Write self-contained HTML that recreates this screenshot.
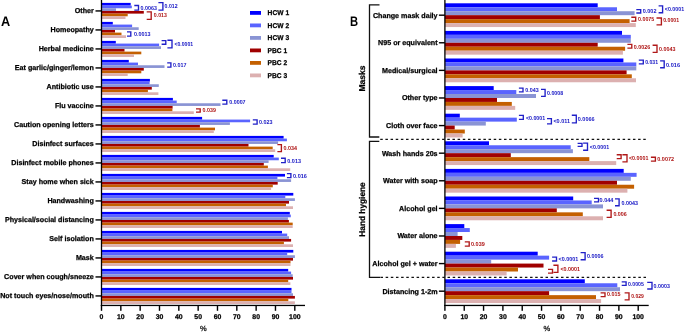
<!DOCTYPE html>
<html><head><meta charset="utf-8"><style>
html,body{margin:0;padding:0;background:#fff;width:685px;height:332px;overflow:hidden}
svg{display:block}
#w{width:685px;height:332px;will-change:transform}
text{font-family:"Liberation Sans", sans-serif;paint-order:stroke;text-rendering:geometricPrecision}
.bk{stroke:#000;stroke-width:0.25px}
</style></head><body>
<div id="w"><svg width="685" height="332" viewBox="0 0 685 332">
<rect x="101.5" y="2.90" width="29.20" height="2.68" fill="#0000ff"/>
<rect x="101.5" y="5.58" width="30.30" height="2.68" fill="#5a64ff"/>
<rect x="101.5" y="8.26" width="14.50" height="2.68" fill="#8a94d4"/>
<rect x="101.5" y="10.94" width="42.30" height="2.68" fill="#a00000"/>
<rect x="101.5" y="13.62" width="26.20" height="2.68" fill="#c46000"/>
<rect x="101.5" y="16.30" width="24.00" height="2.68" fill="#dcb0b0"/>
<rect x="101.5" y="21.90" width="11.30" height="2.68" fill="#0000ff"/>
<rect x="101.5" y="24.58" width="30.60" height="2.68" fill="#5a64ff"/>
<rect x="101.5" y="27.26" width="37.20" height="2.68" fill="#8a94d4"/>
<rect x="101.5" y="29.94" width="13.50" height="2.68" fill="#a00000"/>
<rect x="101.5" y="32.62" width="20.00" height="2.68" fill="#c46000"/>
<rect x="101.5" y="35.30" width="24.50" height="2.68" fill="#dcb0b0"/>
<rect x="101.5" y="40.90" width="14.30" height="2.68" fill="#0000ff"/>
<rect x="101.5" y="43.58" width="57.60" height="2.68" fill="#5a64ff"/>
<rect x="101.5" y="46.26" width="59.50" height="2.68" fill="#8a94d4"/>
<rect x="101.5" y="48.94" width="23.00" height="2.68" fill="#a00000"/>
<rect x="101.5" y="51.62" width="39.80" height="2.68" fill="#c46000"/>
<rect x="101.5" y="54.30" width="32.50" height="2.68" fill="#dcb0b0"/>
<rect x="101.5" y="59.90" width="27.30" height="2.68" fill="#0000ff"/>
<rect x="101.5" y="62.58" width="36.50" height="2.68" fill="#5a64ff"/>
<rect x="101.5" y="65.26" width="63.00" height="2.68" fill="#8a94d4"/>
<rect x="101.5" y="67.94" width="42.30" height="2.68" fill="#a00000"/>
<rect x="101.5" y="70.62" width="39.80" height="2.68" fill="#c46000"/>
<rect x="101.5" y="73.30" width="26.20" height="2.68" fill="#dcb0b0"/>
<rect x="101.5" y="78.90" width="48.40" height="2.68" fill="#0000ff"/>
<rect x="101.5" y="81.58" width="48.10" height="2.68" fill="#5a64ff"/>
<rect x="101.5" y="84.26" width="57.30" height="2.68" fill="#8a94d4"/>
<rect x="101.5" y="86.94" width="50.30" height="2.68" fill="#a00000"/>
<rect x="101.5" y="89.62" width="46.40" height="2.68" fill="#c46000"/>
<rect x="101.5" y="92.30" width="56.90" height="2.68" fill="#dcb0b0"/>
<rect x="101.5" y="97.90" width="71.40" height="2.68" fill="#0000ff"/>
<rect x="101.5" y="100.58" width="75.20" height="2.68" fill="#5a64ff"/>
<rect x="101.5" y="103.26" width="119.00" height="2.68" fill="#8a94d4"/>
<rect x="101.5" y="105.94" width="71.10" height="2.68" fill="#a00000"/>
<rect x="101.5" y="108.62" width="70.90" height="2.68" fill="#c46000"/>
<rect x="101.5" y="111.30" width="92.30" height="2.68" fill="#dcb0b0"/>
<rect x="101.5" y="116.90" width="100.60" height="2.68" fill="#0000ff"/>
<rect x="101.5" y="119.58" width="148.60" height="2.68" fill="#5a64ff"/>
<rect x="101.5" y="122.26" width="128.40" height="2.68" fill="#8a94d4"/>
<rect x="101.5" y="124.94" width="98.40" height="2.68" fill="#a00000"/>
<rect x="101.5" y="127.62" width="113.50" height="2.68" fill="#c46000"/>
<rect x="101.5" y="130.30" width="112.30" height="2.68" fill="#dcb0b0"/>
<rect x="101.5" y="135.90" width="182.10" height="2.68" fill="#0000ff"/>
<rect x="101.5" y="138.58" width="185.40" height="2.68" fill="#5a64ff"/>
<rect x="101.5" y="141.26" width="176.60" height="2.68" fill="#8a94d4"/>
<rect x="101.5" y="143.94" width="147.00" height="2.68" fill="#a00000"/>
<rect x="101.5" y="146.62" width="171.20" height="2.68" fill="#c46000"/>
<rect x="101.5" y="149.30" width="173.70" height="2.68" fill="#dcb0b0"/>
<rect x="101.5" y="154.90" width="172.20" height="2.68" fill="#0000ff"/>
<rect x="101.5" y="157.58" width="177.30" height="2.68" fill="#5a64ff"/>
<rect x="101.5" y="160.26" width="167.10" height="2.68" fill="#8a94d4"/>
<rect x="101.5" y="162.94" width="162.30" height="2.68" fill="#a00000"/>
<rect x="101.5" y="165.62" width="166.40" height="2.68" fill="#c46000"/>
<rect x="101.5" y="168.30" width="188.70" height="2.68" fill="#dcb0b0"/>
<rect x="101.5" y="173.90" width="183.50" height="2.68" fill="#0000ff"/>
<rect x="101.5" y="176.58" width="175.90" height="2.68" fill="#5a64ff"/>
<rect x="101.5" y="179.26" width="189.60" height="2.68" fill="#8a94d4"/>
<rect x="101.5" y="181.94" width="176.20" height="2.68" fill="#a00000"/>
<rect x="101.5" y="184.62" width="171.30" height="2.68" fill="#c46000"/>
<rect x="101.5" y="187.30" width="169.60" height="2.68" fill="#dcb0b0"/>
<rect x="101.5" y="192.90" width="191.80" height="2.68" fill="#0000ff"/>
<rect x="101.5" y="195.58" width="183.80" height="2.68" fill="#5a64ff"/>
<rect x="101.5" y="198.26" width="193.40" height="2.68" fill="#8a94d4"/>
<rect x="101.5" y="200.94" width="187.50" height="2.68" fill="#a00000"/>
<rect x="101.5" y="203.62" width="184.50" height="2.68" fill="#c46000"/>
<rect x="101.5" y="206.30" width="191.50" height="2.68" fill="#dcb0b0"/>
<rect x="101.5" y="211.90" width="188.30" height="2.68" fill="#0000ff"/>
<rect x="101.5" y="214.58" width="189.30" height="2.68" fill="#5a64ff"/>
<rect x="101.5" y="217.26" width="186.40" height="2.68" fill="#8a94d4"/>
<rect x="101.5" y="219.94" width="187.40" height="2.68" fill="#a00000"/>
<rect x="101.5" y="222.62" width="191.20" height="2.68" fill="#c46000"/>
<rect x="101.5" y="225.30" width="191.20" height="2.68" fill="#dcb0b0"/>
<rect x="101.5" y="230.90" width="180.50" height="2.68" fill="#0000ff"/>
<rect x="101.5" y="233.58" width="185.70" height="2.68" fill="#5a64ff"/>
<rect x="101.5" y="236.26" width="187.50" height="2.68" fill="#8a94d4"/>
<rect x="101.5" y="238.94" width="189.60" height="2.68" fill="#a00000"/>
<rect x="101.5" y="241.62" width="182.40" height="2.68" fill="#c46000"/>
<rect x="101.5" y="244.30" width="191.50" height="2.68" fill="#dcb0b0"/>
<rect x="101.5" y="249.90" width="191.80" height="2.68" fill="#0000ff"/>
<rect x="101.5" y="252.58" width="185.70" height="2.68" fill="#5a64ff"/>
<rect x="101.5" y="255.26" width="193.40" height="2.68" fill="#8a94d4"/>
<rect x="101.5" y="257.94" width="191.50" height="2.68" fill="#a00000"/>
<rect x="101.5" y="260.62" width="189.00" height="2.68" fill="#c46000"/>
<rect x="101.5" y="263.30" width="189.00" height="2.68" fill="#dcb0b0"/>
<rect x="101.5" y="268.90" width="186.70" height="2.68" fill="#0000ff"/>
<rect x="101.5" y="271.58" width="189.60" height="2.68" fill="#5a64ff"/>
<rect x="101.5" y="274.26" width="191.20" height="2.68" fill="#8a94d4"/>
<rect x="101.5" y="276.94" width="191.50" height="2.68" fill="#a00000"/>
<rect x="101.5" y="279.62" width="186.70" height="2.68" fill="#c46000"/>
<rect x="101.5" y="282.30" width="188.90" height="2.68" fill="#dcb0b0"/>
<rect x="101.5" y="287.90" width="190.00" height="2.68" fill="#0000ff"/>
<rect x="101.5" y="290.58" width="190.00" height="2.68" fill="#5a64ff"/>
<rect x="101.5" y="293.26" width="191.50" height="2.68" fill="#8a94d4"/>
<rect x="101.5" y="295.94" width="193.40" height="2.68" fill="#a00000"/>
<rect x="101.5" y="298.62" width="186.80" height="2.68" fill="#c46000"/>
<rect x="101.5" y="301.30" width="193.40" height="2.68" fill="#dcb0b0"/>
<rect x="444.9" y="3.30" width="152.80" height="3.96" fill="#0000ff"/>
<rect x="444.9" y="7.26" width="172.10" height="3.96" fill="#5a64ff"/>
<rect x="444.9" y="11.22" width="189.70" height="3.96" fill="#8a94d4"/>
<rect x="444.9" y="15.18" width="155.00" height="3.96" fill="#a00000"/>
<rect x="444.9" y="19.14" width="184.70" height="3.96" fill="#c46000"/>
<rect x="444.9" y="23.10" width="190.90" height="3.96" fill="#dcb0b0"/>
<rect x="444.9" y="30.90" width="177.10" height="3.96" fill="#0000ff"/>
<rect x="444.9" y="34.86" width="185.90" height="3.96" fill="#5a64ff"/>
<rect x="444.9" y="38.82" width="185.90" height="3.96" fill="#8a94d4"/>
<rect x="444.9" y="42.78" width="152.80" height="3.96" fill="#a00000"/>
<rect x="444.9" y="46.74" width="180.20" height="3.96" fill="#c46000"/>
<rect x="444.9" y="50.70" width="178.00" height="3.96" fill="#dcb0b0"/>
<rect x="444.9" y="58.50" width="178.50" height="3.96" fill="#0000ff"/>
<rect x="444.9" y="62.46" width="191.40" height="3.96" fill="#5a64ff"/>
<rect x="444.9" y="66.42" width="191.40" height="3.96" fill="#8a94d4"/>
<rect x="444.9" y="70.38" width="181.70" height="3.96" fill="#a00000"/>
<rect x="444.9" y="74.34" width="186.90" height="3.96" fill="#c46000"/>
<rect x="444.9" y="78.30" width="191.10" height="3.96" fill="#dcb0b0"/>
<rect x="444.9" y="86.10" width="48.80" height="3.96" fill="#0000ff"/>
<rect x="444.9" y="90.06" width="71.40" height="3.96" fill="#5a64ff"/>
<rect x="444.9" y="94.02" width="91.10" height="3.96" fill="#8a94d4"/>
<rect x="444.9" y="97.98" width="52.10" height="3.96" fill="#a00000"/>
<rect x="444.9" y="101.94" width="66.90" height="3.96" fill="#c46000"/>
<rect x="444.9" y="105.90" width="70.30" height="3.96" fill="#dcb0b0"/>
<rect x="444.9" y="113.70" width="14.90" height="3.96" fill="#0000ff"/>
<rect x="444.9" y="117.66" width="71.90" height="3.96" fill="#5a64ff"/>
<rect x="444.9" y="121.62" width="40.90" height="3.96" fill="#8a94d4"/>
<rect x="444.9" y="125.58" width="9.80" height="3.96" fill="#a00000"/>
<rect x="444.9" y="129.54" width="19.90" height="3.96" fill="#c46000"/>
<rect x="444.9" y="133.50" width="17.70" height="3.96" fill="#dcb0b0"/>
<rect x="444.9" y="141.30" width="44.10" height="3.96" fill="#0000ff"/>
<rect x="444.9" y="145.26" width="125.80" height="3.96" fill="#5a64ff"/>
<rect x="444.9" y="149.22" width="128.00" height="3.96" fill="#8a94d4"/>
<rect x="444.9" y="153.18" width="65.90" height="3.96" fill="#a00000"/>
<rect x="444.9" y="157.14" width="144.40" height="3.96" fill="#c46000"/>
<rect x="444.9" y="161.10" width="171.30" height="3.96" fill="#dcb0b0"/>
<rect x="444.9" y="168.90" width="178.80" height="3.96" fill="#0000ff"/>
<rect x="444.9" y="172.86" width="191.70" height="3.96" fill="#5a64ff"/>
<rect x="444.9" y="176.82" width="185.90" height="3.96" fill="#8a94d4"/>
<rect x="444.9" y="180.78" width="172.10" height="3.96" fill="#a00000"/>
<rect x="444.9" y="184.74" width="189.20" height="3.96" fill="#c46000"/>
<rect x="444.9" y="188.70" width="182.50" height="3.96" fill="#dcb0b0"/>
<rect x="444.9" y="196.50" width="128.30" height="3.96" fill="#0000ff"/>
<rect x="444.9" y="200.46" width="146.80" height="3.96" fill="#5a64ff"/>
<rect x="444.9" y="204.42" width="158.10" height="3.96" fill="#8a94d4"/>
<rect x="444.9" y="208.38" width="111.90" height="3.96" fill="#a00000"/>
<rect x="444.9" y="212.34" width="137.90" height="3.96" fill="#c46000"/>
<rect x="444.9" y="216.30" width="158.10" height="3.96" fill="#dcb0b0"/>
<rect x="444.9" y="224.10" width="19.40" height="3.96" fill="#0000ff"/>
<rect x="444.9" y="228.06" width="24.90" height="3.96" fill="#5a64ff"/>
<rect x="444.9" y="232.02" width="12.70" height="3.96" fill="#8a94d4"/>
<rect x="444.9" y="235.98" width="17.40" height="3.96" fill="#a00000"/>
<rect x="444.9" y="239.94" width="15.20" height="3.96" fill="#c46000"/>
<rect x="444.9" y="243.90" width="11.00" height="3.96" fill="#dcb0b0"/>
<rect x="444.9" y="251.70" width="92.80" height="3.96" fill="#0000ff"/>
<rect x="444.9" y="255.66" width="104.20" height="3.96" fill="#5a64ff"/>
<rect x="444.9" y="259.62" width="46.30" height="3.96" fill="#8a94d4"/>
<rect x="444.9" y="263.58" width="98.60" height="3.96" fill="#a00000"/>
<rect x="444.9" y="267.54" width="73.10" height="3.96" fill="#c46000"/>
<rect x="444.9" y="271.50" width="61.70" height="3.96" fill="#dcb0b0"/>
<rect x="444.9" y="279.30" width="139.90" height="3.96" fill="#0000ff"/>
<rect x="444.9" y="283.26" width="172.40" height="3.96" fill="#5a64ff"/>
<rect x="444.9" y="287.22" width="175.10" height="3.96" fill="#8a94d4"/>
<rect x="444.9" y="291.18" width="104.20" height="3.96" fill="#a00000"/>
<rect x="444.9" y="295.14" width="151.10" height="3.96" fill="#c46000"/>
<rect x="444.9" y="299.10" width="156.20" height="3.96" fill="#dcb0b0"/>
<rect x="100.85" y="0" width="1.3" height="305.90" fill="#000"/>
<rect x="100.85" y="304.8" width="204.15" height="1.3" fill="#000"/>
<rect x="100.80" y="305.0" width="1.4" height="5.8" fill="#000"/>
<text x="101.50" y="319" font-size="6.9" font-weight="bold" text-anchor="middle" fill="#000" class="bk">0</text>
<rect x="120.13" y="305.0" width="1.4" height="5.8" fill="#000"/>
<text x="120.83" y="319" font-size="6.9" font-weight="bold" text-anchor="middle" fill="#000" class="bk">10</text>
<rect x="139.46" y="305.0" width="1.4" height="5.8" fill="#000"/>
<text x="140.16" y="319" font-size="6.9" font-weight="bold" text-anchor="middle" fill="#000" class="bk">20</text>
<rect x="158.79" y="305.0" width="1.4" height="5.8" fill="#000"/>
<text x="159.49" y="319" font-size="6.9" font-weight="bold" text-anchor="middle" fill="#000" class="bk">30</text>
<rect x="178.12" y="305.0" width="1.4" height="5.8" fill="#000"/>
<text x="178.82" y="319" font-size="6.9" font-weight="bold" text-anchor="middle" fill="#000" class="bk">40</text>
<rect x="197.45" y="305.0" width="1.4" height="5.8" fill="#000"/>
<text x="198.15" y="319" font-size="6.9" font-weight="bold" text-anchor="middle" fill="#000" class="bk">50</text>
<rect x="216.78" y="305.0" width="1.4" height="5.8" fill="#000"/>
<text x="217.48" y="319" font-size="6.9" font-weight="bold" text-anchor="middle" fill="#000" class="bk">60</text>
<rect x="236.11" y="305.0" width="1.4" height="5.8" fill="#000"/>
<text x="236.81" y="319" font-size="6.9" font-weight="bold" text-anchor="middle" fill="#000" class="bk">70</text>
<rect x="255.44" y="305.0" width="1.4" height="5.8" fill="#000"/>
<text x="256.14" y="319" font-size="6.9" font-weight="bold" text-anchor="middle" fill="#000" class="bk">80</text>
<rect x="274.77" y="305.0" width="1.4" height="5.8" fill="#000"/>
<text x="275.47" y="319" font-size="6.9" font-weight="bold" text-anchor="middle" fill="#000" class="bk">90</text>
<rect x="294.10" y="305.0" width="1.4" height="5.8" fill="#000"/>
<text x="294.80" y="319" font-size="6.9" font-weight="bold" text-anchor="middle" fill="#000" class="bk">100</text>
<text x="203.25" y="330.6" font-size="7.5" text-anchor="middle" fill="#111" stroke="#111" stroke-width="0.25">%</text>
<rect x="444.25" y="0" width="1.3" height="305.90" fill="#000"/>
<rect x="444.25" y="304.8" width="204.45" height="1.3" fill="#000"/>
<rect x="444.20" y="305.0" width="1.4" height="5.8" fill="#000"/>
<text x="444.90" y="319" font-size="6.9" font-weight="bold" text-anchor="middle" fill="#000" class="bk">0</text>
<rect x="463.53" y="305.0" width="1.4" height="5.8" fill="#000"/>
<text x="464.23" y="319" font-size="6.9" font-weight="bold" text-anchor="middle" fill="#000" class="bk">10</text>
<rect x="482.86" y="305.0" width="1.4" height="5.8" fill="#000"/>
<text x="483.56" y="319" font-size="6.9" font-weight="bold" text-anchor="middle" fill="#000" class="bk">20</text>
<rect x="502.19" y="305.0" width="1.4" height="5.8" fill="#000"/>
<text x="502.89" y="319" font-size="6.9" font-weight="bold" text-anchor="middle" fill="#000" class="bk">30</text>
<rect x="521.52" y="305.0" width="1.4" height="5.8" fill="#000"/>
<text x="522.22" y="319" font-size="6.9" font-weight="bold" text-anchor="middle" fill="#000" class="bk">40</text>
<rect x="540.85" y="305.0" width="1.4" height="5.8" fill="#000"/>
<text x="541.55" y="319" font-size="6.9" font-weight="bold" text-anchor="middle" fill="#000" class="bk">50</text>
<rect x="560.18" y="305.0" width="1.4" height="5.8" fill="#000"/>
<text x="560.88" y="319" font-size="6.9" font-weight="bold" text-anchor="middle" fill="#000" class="bk">60</text>
<rect x="579.51" y="305.0" width="1.4" height="5.8" fill="#000"/>
<text x="580.21" y="319" font-size="6.9" font-weight="bold" text-anchor="middle" fill="#000" class="bk">70</text>
<rect x="598.84" y="305.0" width="1.4" height="5.8" fill="#000"/>
<text x="599.54" y="319" font-size="6.9" font-weight="bold" text-anchor="middle" fill="#000" class="bk">80</text>
<rect x="618.17" y="305.0" width="1.4" height="5.8" fill="#000"/>
<text x="618.87" y="319" font-size="6.9" font-weight="bold" text-anchor="middle" fill="#000" class="bk">90</text>
<rect x="637.50" y="305.0" width="1.4" height="5.8" fill="#000"/>
<text x="638.20" y="319" font-size="6.9" font-weight="bold" text-anchor="middle" fill="#000" class="bk">100</text>
<text x="546.80" y="330.6" font-size="7.5" text-anchor="middle" fill="#111" stroke="#111" stroke-width="0.25">%</text>
<rect x="95.50" y="10.24" width="6" height="1.4" fill="#000"/>
<text x="93.8" y="13.44" font-size="7.15" font-weight="bold" text-anchor="end" fill="#000" class="bk">Other</text>
<rect x="95.50" y="29.24" width="6" height="1.4" fill="#000"/>
<text x="93.8" y="32.44" font-size="7.15" font-weight="bold" text-anchor="end" fill="#000" class="bk">Homeopathy</text>
<rect x="95.50" y="48.24" width="6" height="1.4" fill="#000"/>
<text x="93.8" y="51.44" font-size="7.15" font-weight="bold" text-anchor="end" fill="#000" class="bk">Herbal medicine</text>
<rect x="95.50" y="67.24" width="6" height="1.4" fill="#000"/>
<text x="93.8" y="70.44" font-size="7.15" font-weight="bold" text-anchor="end" fill="#000" class="bk">Eat garlic/ginger/lemon</text>
<rect x="95.50" y="86.24" width="6" height="1.4" fill="#000"/>
<text x="93.8" y="89.44" font-size="7.15" font-weight="bold" text-anchor="end" fill="#000" class="bk">Antibiotic use</text>
<rect x="95.50" y="105.24" width="6" height="1.4" fill="#000"/>
<text x="93.8" y="108.44" font-size="7.15" font-weight="bold" text-anchor="end" fill="#000" class="bk">Flu vaccine</text>
<rect x="95.50" y="124.24" width="6" height="1.4" fill="#000"/>
<text x="93.8" y="127.44" font-size="7.15" font-weight="bold" text-anchor="end" fill="#000" class="bk">Caution opening letters</text>
<rect x="95.50" y="143.24" width="6" height="1.4" fill="#000"/>
<text x="93.8" y="146.44" font-size="7.15" font-weight="bold" text-anchor="end" fill="#000" class="bk">Disinfect surfaces</text>
<rect x="95.50" y="162.24" width="6" height="1.4" fill="#000"/>
<text x="93.8" y="165.44" font-size="7.15" font-weight="bold" text-anchor="end" fill="#000" class="bk">Disinfect mobile phones</text>
<rect x="95.50" y="181.24" width="6" height="1.4" fill="#000"/>
<text x="93.8" y="184.44" font-size="7.15" font-weight="bold" text-anchor="end" fill="#000" class="bk">Stay home when sick</text>
<rect x="95.50" y="200.24" width="6" height="1.4" fill="#000"/>
<text x="93.8" y="203.44" font-size="7.15" font-weight="bold" text-anchor="end" fill="#000" class="bk">Handwashing</text>
<rect x="95.50" y="219.24" width="6" height="1.4" fill="#000"/>
<text x="93.8" y="222.44" font-size="7.15" font-weight="bold" text-anchor="end" fill="#000" class="bk">Physical/social distancing</text>
<rect x="95.50" y="238.24" width="6" height="1.4" fill="#000"/>
<text x="93.8" y="241.44" font-size="7.15" font-weight="bold" text-anchor="end" fill="#000" class="bk">Self isolation</text>
<rect x="95.50" y="257.24" width="6" height="1.4" fill="#000"/>
<text x="93.8" y="260.44" font-size="7.15" font-weight="bold" text-anchor="end" fill="#000" class="bk">Mask</text>
<rect x="95.50" y="276.24" width="6" height="1.4" fill="#000"/>
<text x="93.8" y="279.44" font-size="7.15" font-weight="bold" text-anchor="end" fill="#000" class="bk">Cover when cough/sneeze</text>
<rect x="95.50" y="295.24" width="6" height="1.4" fill="#000"/>
<text x="93.8" y="298.44" font-size="7.15" font-weight="bold" text-anchor="end" fill="#000" class="bk">Not touch eyes/nose/mouth</text>
<rect x="438.90" y="14.48" width="6" height="1.4" fill="#000"/>
<text x="437.6" y="17.68" font-size="7.15" font-weight="bold" text-anchor="end" fill="#000" class="bk">Change mask daily</text>
<rect x="438.90" y="42.08" width="6" height="1.4" fill="#000"/>
<text x="437.6" y="45.28" font-size="7.15" font-weight="bold" text-anchor="end" fill="#000" class="bk">N95 or equivalent</text>
<rect x="438.90" y="69.68" width="6" height="1.4" fill="#000"/>
<text x="437.6" y="72.88" font-size="7.15" font-weight="bold" text-anchor="end" fill="#000" class="bk">Medical/surgical</text>
<rect x="438.90" y="97.28" width="6" height="1.4" fill="#000"/>
<text x="437.6" y="100.48" font-size="7.15" font-weight="bold" text-anchor="end" fill="#000" class="bk">Other type</text>
<rect x="438.90" y="124.88" width="6" height="1.4" fill="#000"/>
<text x="437.6" y="128.08" font-size="7.15" font-weight="bold" text-anchor="end" fill="#000" class="bk">Cloth over face</text>
<rect x="438.90" y="152.48" width="6" height="1.4" fill="#000"/>
<text x="437.6" y="155.68" font-size="7.15" font-weight="bold" text-anchor="end" fill="#000" class="bk">Wash hands 20s</text>
<rect x="438.90" y="180.08" width="6" height="1.4" fill="#000"/>
<text x="437.6" y="183.28" font-size="7.15" font-weight="bold" text-anchor="end" fill="#000" class="bk">Water with soap</text>
<rect x="438.90" y="207.68" width="6" height="1.4" fill="#000"/>
<text x="437.6" y="210.88" font-size="7.15" font-weight="bold" text-anchor="end" fill="#000" class="bk">Alcohol gel</text>
<rect x="438.90" y="235.28" width="6" height="1.4" fill="#000"/>
<text x="437.6" y="238.48" font-size="7.15" font-weight="bold" text-anchor="end" fill="#000" class="bk">Water alone</text>
<rect x="438.90" y="262.88" width="6" height="1.4" fill="#000"/>
<text x="437.6" y="266.08" font-size="7.15" font-weight="bold" text-anchor="end" fill="#000" class="bk">Alcohol gel + water</text>
<rect x="438.90" y="290.48" width="6" height="1.4" fill="#000"/>
<text x="437.6" y="293.68" font-size="7.15" font-weight="bold" text-anchor="end" fill="#000" class="bk">Distancing 1-2m</text>
<path d="M134.30 5.50H138.50V10.10H134.30" fill="none" stroke="#2020c8" stroke-width="1.35"/>
<text x="140.60" y="9.60" font-size="5.9" font-weight="bold" fill="#2020c8" stroke="#2020c8" stroke-width="0.0" textLength="16.40" lengthAdjust="spacingAndGlyphs">0.0063</text>
<path d="M158.40 2.60H162.90V10.10H158.40" fill="none" stroke="#2020c8" stroke-width="1.35"/>
<text x="164.60" y="8.20" font-size="5.9" font-weight="bold" fill="#2020c8" stroke="#2020c8" stroke-width="0.0" textLength="13.00" lengthAdjust="spacingAndGlyphs">0.012</text>
<path d="M146.70 11.80H151.20V19.40H146.70" fill="none" stroke="#b01818" stroke-width="1.35"/>
<text x="153.80" y="17.20" font-size="5.9" font-weight="bold" fill="#b01818" stroke="#b01818" stroke-width="0.0" textLength="13.10" lengthAdjust="spacingAndGlyphs">0.013</text>
<path d="M127.00 31.90H130.80V36.10H127.00" fill="none" stroke="#2020c8" stroke-width="1.35"/>
<text x="133.90" y="35.50" font-size="5.9" font-weight="bold" fill="#2020c8" stroke="#2020c8" stroke-width="0.0" textLength="16.50" lengthAdjust="spacingAndGlyphs">0.0013</text>
<path d="M161.60 40.60H165.80V44.20H161.60" fill="none" stroke="#2020c8" stroke-width="1.35"/>
<path d="M167.40 40.20H172.00V47.80H167.40" fill="none" stroke="#2020c8" stroke-width="1.35"/>
<text x="174.50" y="45.90" font-size="5.9" font-weight="bold" fill="#2020c8" stroke="#2020c8" stroke-width="0.0" textLength="18.60" lengthAdjust="spacingAndGlyphs">&lt;0.0001</text>
<path d="M167.20 62.90H170.90V67.10H167.20" fill="none" stroke="#2020c8" stroke-width="1.35"/>
<text x="173.00" y="66.60" font-size="5.9" font-weight="bold" fill="#2020c8" stroke="#2020c8" stroke-width="0.0" textLength="13.40" lengthAdjust="spacingAndGlyphs">0.017</text>
<path d="M222.30 100.20H226.80V104.10H222.30" fill="none" stroke="#2020c8" stroke-width="1.35"/>
<text x="229.30" y="103.90" font-size="5.9" font-weight="bold" fill="#2020c8" stroke="#2020c8" stroke-width="0.0" textLength="16.30" lengthAdjust="spacingAndGlyphs">0.0007</text>
<path d="M196.00 108.80H200.20V112.10H196.00" fill="none" stroke="#b01818" stroke-width="1.35"/>
<text x="202.60" y="112.20" font-size="5.9" font-weight="bold" fill="#b01818" stroke="#b01818" stroke-width="0.0" textLength="13.40" lengthAdjust="spacingAndGlyphs">0.039</text>
<path d="M252.80 119.90H257.10V124.10H252.80" fill="none" stroke="#2020c8" stroke-width="1.35"/>
<text x="259.10" y="123.60" font-size="5.9" font-weight="bold" fill="#2020c8" stroke="#2020c8" stroke-width="0.0" textLength="13.50" lengthAdjust="spacingAndGlyphs">0.023</text>
<path d="M277.40 144.60H281.40V151.60H277.40" fill="none" stroke="#b01818" stroke-width="1.35"/>
<text x="283.50" y="149.60" font-size="5.9" font-weight="bold" fill="#b01818" stroke="#b01818" stroke-width="0.0" textLength="13.50" lengthAdjust="spacingAndGlyphs">0.034</text>
<path d="M281.00 158.20H285.20V162.60H281.00" fill="none" stroke="#2020c8" stroke-width="1.35"/>
<text x="287.30" y="162.80" font-size="5.9" font-weight="bold" fill="#2020c8" stroke="#2020c8" stroke-width="0.0" textLength="13.70" lengthAdjust="spacingAndGlyphs">0.013</text>
<path d="M286.90 173.60H290.90V177.60H286.90" fill="none" stroke="#2020c8" stroke-width="1.35"/>
<text x="293.00" y="177.70" font-size="5.9" font-weight="bold" fill="#2020c8" stroke="#2020c8" stroke-width="0.0" textLength="13.90" lengthAdjust="spacingAndGlyphs">0.016</text>
<path d="M636.30 9.60H640.70V13.00H636.30" fill="none" stroke="#2020c8" stroke-width="1.35"/>
<text x="642.70" y="13.40" font-size="5.9" font-weight="bold" fill="#2020c8" stroke="#2020c8" stroke-width="0.0" textLength="13.80" lengthAdjust="spacingAndGlyphs">0.002</text>
<path d="M658.60 5.80H662.60V12.70H658.60" fill="none" stroke="#2020c8" stroke-width="1.35"/>
<text x="664.80" y="11.30" font-size="5.9" font-weight="bold" fill="#2020c8" stroke="#2020c8" stroke-width="0.0" textLength="19.40" lengthAdjust="spacingAndGlyphs">&lt;0.0001</text>
<path d="M631.30 17.20H635.70V21.10H631.30" fill="none" stroke="#b01818" stroke-width="1.35"/>
<text x="638.00" y="21.40" font-size="5.9" font-weight="bold" fill="#b01818" stroke="#b01818" stroke-width="0.0" textLength="16.30" lengthAdjust="spacingAndGlyphs">0.0075</text>
<path d="M656.50 18.00H661.40V24.80H656.50" fill="none" stroke="#b01818" stroke-width="1.35"/>
<text x="663.20" y="22.20" font-size="5.9" font-weight="bold" fill="#b01818" stroke="#b01818" stroke-width="0.0" textLength="15.90" lengthAdjust="spacingAndGlyphs">0.0001</text>
<path d="M627.40 44.40H631.80V48.10H627.40" fill="none" stroke="#b01818" stroke-width="1.35"/>
<text x="633.80" y="48.60" font-size="5.9" font-weight="bold" fill="#b01818" stroke="#b01818" stroke-width="0.0" textLength="16.40" lengthAdjust="spacingAndGlyphs">0.0026</text>
<path d="M652.60 45.20H657.00V52.40H652.60" fill="none" stroke="#b01818" stroke-width="1.35"/>
<text x="659.00" y="50.60" font-size="5.9" font-weight="bold" fill="#b01818" stroke="#b01818" stroke-width="0.0" textLength="16.40" lengthAdjust="spacingAndGlyphs">0.0043</text>
<path d="M638.80 60.10H643.30V63.80H638.80" fill="none" stroke="#2020c8" stroke-width="1.35"/>
<text x="645.20" y="64.20" font-size="5.9" font-weight="bold" fill="#2020c8" stroke="#2020c8" stroke-width="0.0" textLength="12.90" lengthAdjust="spacingAndGlyphs">0.031</text>
<path d="M660.10 60.80H664.20V67.70H660.10" fill="none" stroke="#2020c8" stroke-width="1.35"/>
<text x="666.00" y="66.60" font-size="5.9" font-weight="bold" fill="#2020c8" stroke="#2020c8" stroke-width="0.0" textLength="14.00" lengthAdjust="spacingAndGlyphs">0.016</text>
<path d="M518.90 88.10H523.00V91.80H518.90" fill="none" stroke="#2020c8" stroke-width="1.35"/>
<text x="525.20" y="91.80" font-size="5.9" font-weight="bold" fill="#2020c8" stroke="#2020c8" stroke-width="0.0" textLength="13.50" lengthAdjust="spacingAndGlyphs">0.043</text>
<path d="M541.00 89.30H545.10V96.40H541.00" fill="none" stroke="#2020c8" stroke-width="1.35"/>
<text x="547.00" y="95.10" font-size="5.9" font-weight="bold" fill="#2020c8" stroke="#2020c8" stroke-width="0.0" textLength="16.20" lengthAdjust="spacingAndGlyphs">0.0008</text>
<path d="M518.90 115.40H523.30V119.30H518.90" fill="none" stroke="#2020c8" stroke-width="1.35"/>
<text x="525.90" y="119.60" font-size="5.9" font-weight="bold" fill="#2020c8" stroke="#2020c8" stroke-width="0.0" textLength="19.30" lengthAdjust="spacingAndGlyphs">&lt;0.0001</text>
<path d="M547.00 118.60H551.40V123.80H547.00" fill="none" stroke="#2020c8" stroke-width="1.35"/>
<text x="553.40" y="123.20" font-size="5.9" font-weight="bold" fill="#2020c8" stroke="#2020c8" stroke-width="0.0" textLength="16.60" lengthAdjust="spacingAndGlyphs">&lt;0.011</text>
<path d="M571.80 115.20H576.30V122.90H571.80" fill="none" stroke="#2020c8" stroke-width="1.35"/>
<text x="577.80" y="120.60" font-size="5.9" font-weight="bold" fill="#2020c8" stroke="#2020c8" stroke-width="0.0" textLength="16.80" lengthAdjust="spacingAndGlyphs">0.0066</text>
<path d="M577.60 143.40H582.00V146.30H577.60" fill="none" stroke="#2020c8" stroke-width="1.35"/>
<path d="M583.10 143.10H587.50V150.20H583.10" fill="none" stroke="#2020c8" stroke-width="1.35"/>
<text x="589.80" y="148.80" font-size="5.9" font-weight="bold" fill="#2020c8" stroke="#2020c8" stroke-width="0.0" textLength="19.30" lengthAdjust="spacingAndGlyphs">&lt;0.0001</text>
<path d="M616.70 154.70H621.10V158.60H616.70" fill="none" stroke="#b01818" stroke-width="1.35"/>
<path d="M622.40 154.70H627.00V161.90H622.40" fill="none" stroke="#b01818" stroke-width="1.35"/>
<text x="629.00" y="160.20" font-size="5.9" font-weight="bold" fill="#b01818" stroke="#b01818" stroke-width="0.0" textLength="19.40" lengthAdjust="spacingAndGlyphs">&lt;0.0001</text>
<path d="M650.90 157.20H655.40V161.10H650.90" fill="none" stroke="#b01818" stroke-width="1.35"/>
<text x="657.30" y="161.10" font-size="5.9" font-weight="bold" fill="#b01818" stroke="#b01818" stroke-width="0.0" textLength="16.80" lengthAdjust="spacingAndGlyphs">0.0072</text>
<path d="M594.00 198.40H598.50V201.80H594.00" fill="none" stroke="#2020c8" stroke-width="1.35"/>
<text x="599.60" y="201.80" font-size="5.9" font-weight="bold" fill="#2020c8" stroke="#2020c8" stroke-width="0.0" textLength="13.80" lengthAdjust="spacingAndGlyphs">0.044</text>
<path d="M615.00 198.80H619.10V205.70H615.00" fill="none" stroke="#2020c8" stroke-width="1.35"/>
<text x="621.40" y="204.70" font-size="5.9" font-weight="bold" fill="#2020c8" stroke="#2020c8" stroke-width="0.0" textLength="16.50" lengthAdjust="spacingAndGlyphs">0.0043</text>
<path d="M606.60 210.20H611.10V217.40H606.60" fill="none" stroke="#b01818" stroke-width="1.35"/>
<text x="613.40" y="215.60" font-size="5.9" font-weight="bold" fill="#b01818" stroke="#b01818" stroke-width="0.0" textLength="13.40" lengthAdjust="spacingAndGlyphs">0.006</text>
<path d="M464.80 241.90H469.20V246.10H464.80" fill="none" stroke="#b01818" stroke-width="1.35"/>
<text x="471.00" y="246.10" font-size="5.9" font-weight="bold" fill="#b01818" stroke="#b01818" stroke-width="0.0" textLength="13.80" lengthAdjust="spacingAndGlyphs">0.039</text>
<path d="M552.10 257.10H556.50V261.00H552.10" fill="none" stroke="#2020c8" stroke-width="1.35"/>
<text x="558.50" y="261.40" font-size="5.9" font-weight="bold" fill="#2020c8" stroke="#2020c8" stroke-width="0.0" textLength="19.80" lengthAdjust="spacingAndGlyphs">&lt;0.0001</text>
<path d="M580.60 252.60H585.10V259.70H580.60" fill="none" stroke="#2020c8" stroke-width="1.35"/>
<text x="587.00" y="258.10" font-size="5.9" font-weight="bold" fill="#2020c8" stroke="#2020c8" stroke-width="0.0" textLength="16.50" lengthAdjust="spacingAndGlyphs">0.0006</text>
<path d="M548.00 269.40H552.50V273.10H548.00" fill="none" stroke="#b01818" stroke-width="1.35"/>
<path d="M553.40 265.20H557.90V272.40H553.40" fill="none" stroke="#b01818" stroke-width="1.35"/>
<text x="560.50" y="270.60" font-size="5.9" font-weight="bold" fill="#b01818" stroke="#b01818" stroke-width="0.0" textLength="19.50" lengthAdjust="spacingAndGlyphs">&lt;0.0001</text>
<path d="M621.70 281.90H626.10V285.30H621.70" fill="none" stroke="#2020c8" stroke-width="1.35"/>
<text x="627.90" y="285.50" font-size="5.9" font-weight="bold" fill="#2020c8" stroke="#2020c8" stroke-width="0.0" textLength="16.00" lengthAdjust="spacingAndGlyphs">0.0005</text>
<path d="M647.20 282.30H652.00V289.00H647.20" fill="none" stroke="#2020c8" stroke-width="1.35"/>
<text x="653.60" y="287.70" font-size="5.9" font-weight="bold" fill="#2020c8" stroke="#2020c8" stroke-width="0.0" textLength="16.30" lengthAdjust="spacingAndGlyphs">0.0003</text>
<path d="M600.60 292.90H605.00V296.60H600.60" fill="none" stroke="#b01818" stroke-width="1.35"/>
<text x="606.90" y="296.40" font-size="5.9" font-weight="bold" fill="#b01818" stroke="#b01818" stroke-width="0.0" textLength="13.50" lengthAdjust="spacingAndGlyphs">0.015</text>
<path d="M624.60 292.90H629.00V299.90H624.60" fill="none" stroke="#b01818" stroke-width="1.35"/>
<text x="631.30" y="298.20" font-size="5.9" font-weight="bold" fill="#b01818" stroke="#b01818" stroke-width="0.0" textLength="12.60" lengthAdjust="spacingAndGlyphs">0.029</text>
<rect x="250" y="11.00" width="11" height="3.8" fill="#0000ff"/>
<text x="267.6" y="15.45" font-size="7.0" font-weight="bold" fill="#000" class="bk" textLength="21.5" lengthAdjust="spacingAndGlyphs">HCW 1</text>
<rect x="250" y="23.50" width="11" height="3.8" fill="#5a64ff"/>
<text x="267.6" y="27.95" font-size="7.0" font-weight="bold" fill="#000" class="bk" textLength="21.5" lengthAdjust="spacingAndGlyphs">HCW 2</text>
<rect x="250" y="36.00" width="11" height="3.8" fill="#8a94d4"/>
<text x="267.6" y="40.45" font-size="7.0" font-weight="bold" fill="#000" class="bk" textLength="21.5" lengthAdjust="spacingAndGlyphs">HCW 3</text>
<rect x="250" y="48.50" width="11" height="3.8" fill="#a00000"/>
<text x="267.6" y="52.95" font-size="7.0" font-weight="bold" fill="#000" class="bk" textLength="19.6" lengthAdjust="spacingAndGlyphs">PBC 1</text>
<rect x="250" y="61.00" width="11" height="3.8" fill="#c46000"/>
<text x="267.6" y="65.45" font-size="7.0" font-weight="bold" fill="#000" class="bk" textLength="19.6" lengthAdjust="spacingAndGlyphs">PBC 2</text>
<rect x="250" y="73.50" width="11" height="3.8" fill="#dcb0b0"/>
<text x="267.6" y="77.95" font-size="7.0" font-weight="bold" fill="#000" class="bk" textLength="19.6" lengthAdjust="spacingAndGlyphs">PBC 3</text>
<text x="1.1" y="26" font-size="13.8" font-weight="bold" fill="#000" textLength="9.2" lengthAdjust="spacingAndGlyphs">A</text>
<text x="350.1" y="26" font-size="13.8" font-weight="bold" fill="#000" textLength="8.1" lengthAdjust="spacingAndGlyphs">B</text>
<path d="M379.5 4.9H369.5V137H379.3" fill="none" stroke="#111" stroke-width="1.3"/>
<path d="M379.3 141.4H369.5V277.3H380.2" fill="none" stroke="#111" stroke-width="1.3"/>
<line x1="380.25" y1="139.4" x2="646" y2="139.4" stroke="#111" stroke-width="1.2" stroke-dasharray="2.5 2.657"/>
<line x1="380.5" y1="277.3" x2="646.3" y2="277.3" stroke="#111" stroke-width="1.2" stroke-dasharray="2.5 2.657"/>
<text transform="translate(365.2,78.6) rotate(-90)" font-size="8.5" font-weight="bold" text-anchor="middle" fill="#000" class="bk">Masks</text>
<text transform="translate(364.6,209.5) rotate(-90)" font-size="8.3" font-weight="bold" text-anchor="middle" fill="#000" class="bk">Hand hygiene</text>
</svg></div>
</body></html>
